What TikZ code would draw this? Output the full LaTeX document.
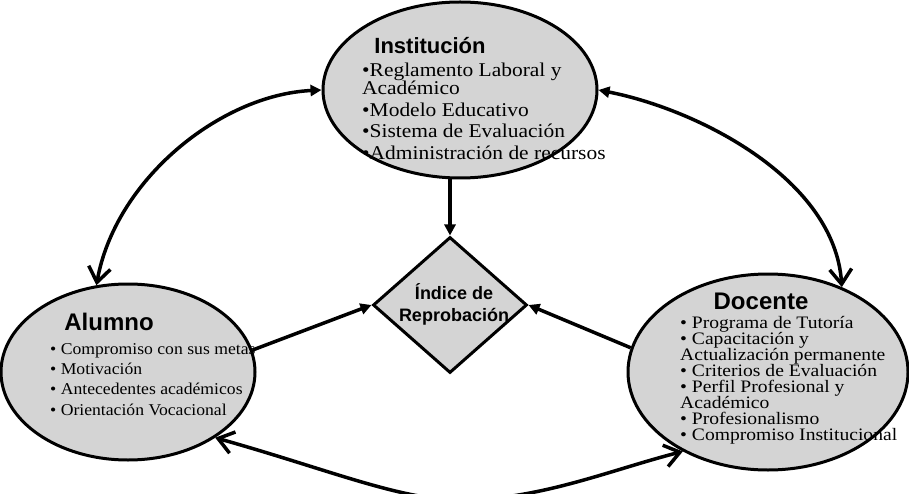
\documentclass[tikz,border=0pt]{standalone}
\usepackage{fontspec}
\setmainfont{Liberation Serif}
\setsansfont{Liberation Sans}
\newfontfamily\instfont[FakeStretch=1.1]{Liberation Serif}
\newfontfamily\docfont[FakeStretch=1.12]{Liberation Serif}
\newfontfamily\alufont[FakeStretch=1.07]{Liberation Serif}
\newcommand\mytightls{\lineskiplimit -20pt\relax}
\usetikzlibrary{shapes.geometric,arrows.meta}
\begin{document}
\begin{tikzpicture}[x=1pt,y=-1pt,
  bubble/.style={ellipse,draw=black,line width=3pt,fill=black!17,inner sep=0pt},
  rhomb/.style={diamond,draw=black,line width=3pt,fill=black!17,inner sep=0pt},
  ttl/.style={font=\sffamily\bfseries\fontsize{22}{24}\selectfont,inner sep=0pt},
  body/.style={align=left,inner sep=0pt,anchor=west},
  link/.style={line width=3.5pt},
  smallhead/.style={-{Triangle[length=11pt,width=11pt]}},
  curvehead/.style={{Triangle[length=11pt,width=11pt]}-{Straight Barb[length=15pt,width=22pt]}},
  bothbarb/.style={{Straight Barb[length=15pt,width=22pt]}-{Straight Barb[length=15pt,width=22pt]}},
]
\useasboundingbox (0,0) rectangle (909,494);
\clip (0,0) rectangle (909,494);
\fill[white] (0,0) rectangle (909,494);

% shapes
\node[bubble,minimum width=274pt,minimum height=176pt] (inst) at (460,90) {};
\node[bubble,minimum width=254pt,minimum height=176pt] (alumno) at (128,372) {};
\node[bubble,minimum width=280pt,minimum height=196pt] (docente) at (768,372) {};
\node[rhomb,minimum width=154pt,minimum height=136pt] (diamond) at (450,305) {};

% titles
\node[ttl] (insttitle) at (430,46) {Institución};
\node[ttl,font=\sffamily\bfseries\fontsize{24}{26}\selectfont] (alumnotitle) at (109,322) {Alumno};
\node[ttl,font=\sffamily\bfseries\fontsize{24}{26}\selectfont] (doctitle) at (761,301) {Docente};

% body texts
\node[body,font={\instfont\fontsize{19.5}{21.5}\selectfont\mytightls}] (insttxt) at (362,111.5)
  {•Reglamento Laboral y\\[-3.5pt]Académico\\•Modelo Educativo\\•Sistema de Evaluación\\•Administración de recursos};
\node[body,font={\alufont\fontsize{16.5}{20.3}\selectfont\mytightls}] (alumnotxt) at (50,379.5)
  {• Compromiso con sus metas\\• Motivación\\• Antecedentes académicos\\• Orientación Vocacional};
\node[body,font={\docfont\fontsize{17.5}{16}\selectfont\mytightls}] (doctxt) at (680,380)
  {• Programa de Tutoría\\• Capacitación y\\Actualización permanente\\• Criterios de Evaluación\\• Perfil Profesional y\\Académico\\• Profesionalismo\\• Compromiso Institucional};
\node[align=center,inner sep=0pt,font=\sffamily\bfseries\fontsize{18}{22}\selectfont] (diamondtxt) at (454,304)
  {Índice de\\Reprobación};

% connectors
\draw[link,smallhead] (diamond.north |- inst.south) -- (diamond.north);
\draw[link,smallhead] (alumno.10) -- (diamond.west);
\draw[link,smallhead] (docente.170) -- (diamond.east);
\draw[link,curvehead] (inst.west) .. controls (220,95) and (115,180) .. (alumno.110);
\draw[link,curvehead] (inst.east) .. controls (700,110) and (835,180) .. (docente.49);
\draw[link,bothbarb] (alumno.-37) .. controls (330,470) and (400,500) .. (460,500)
  .. controls (540,500) and (610,470) .. (docente.223);
\end{tikzpicture}
\end{document}
